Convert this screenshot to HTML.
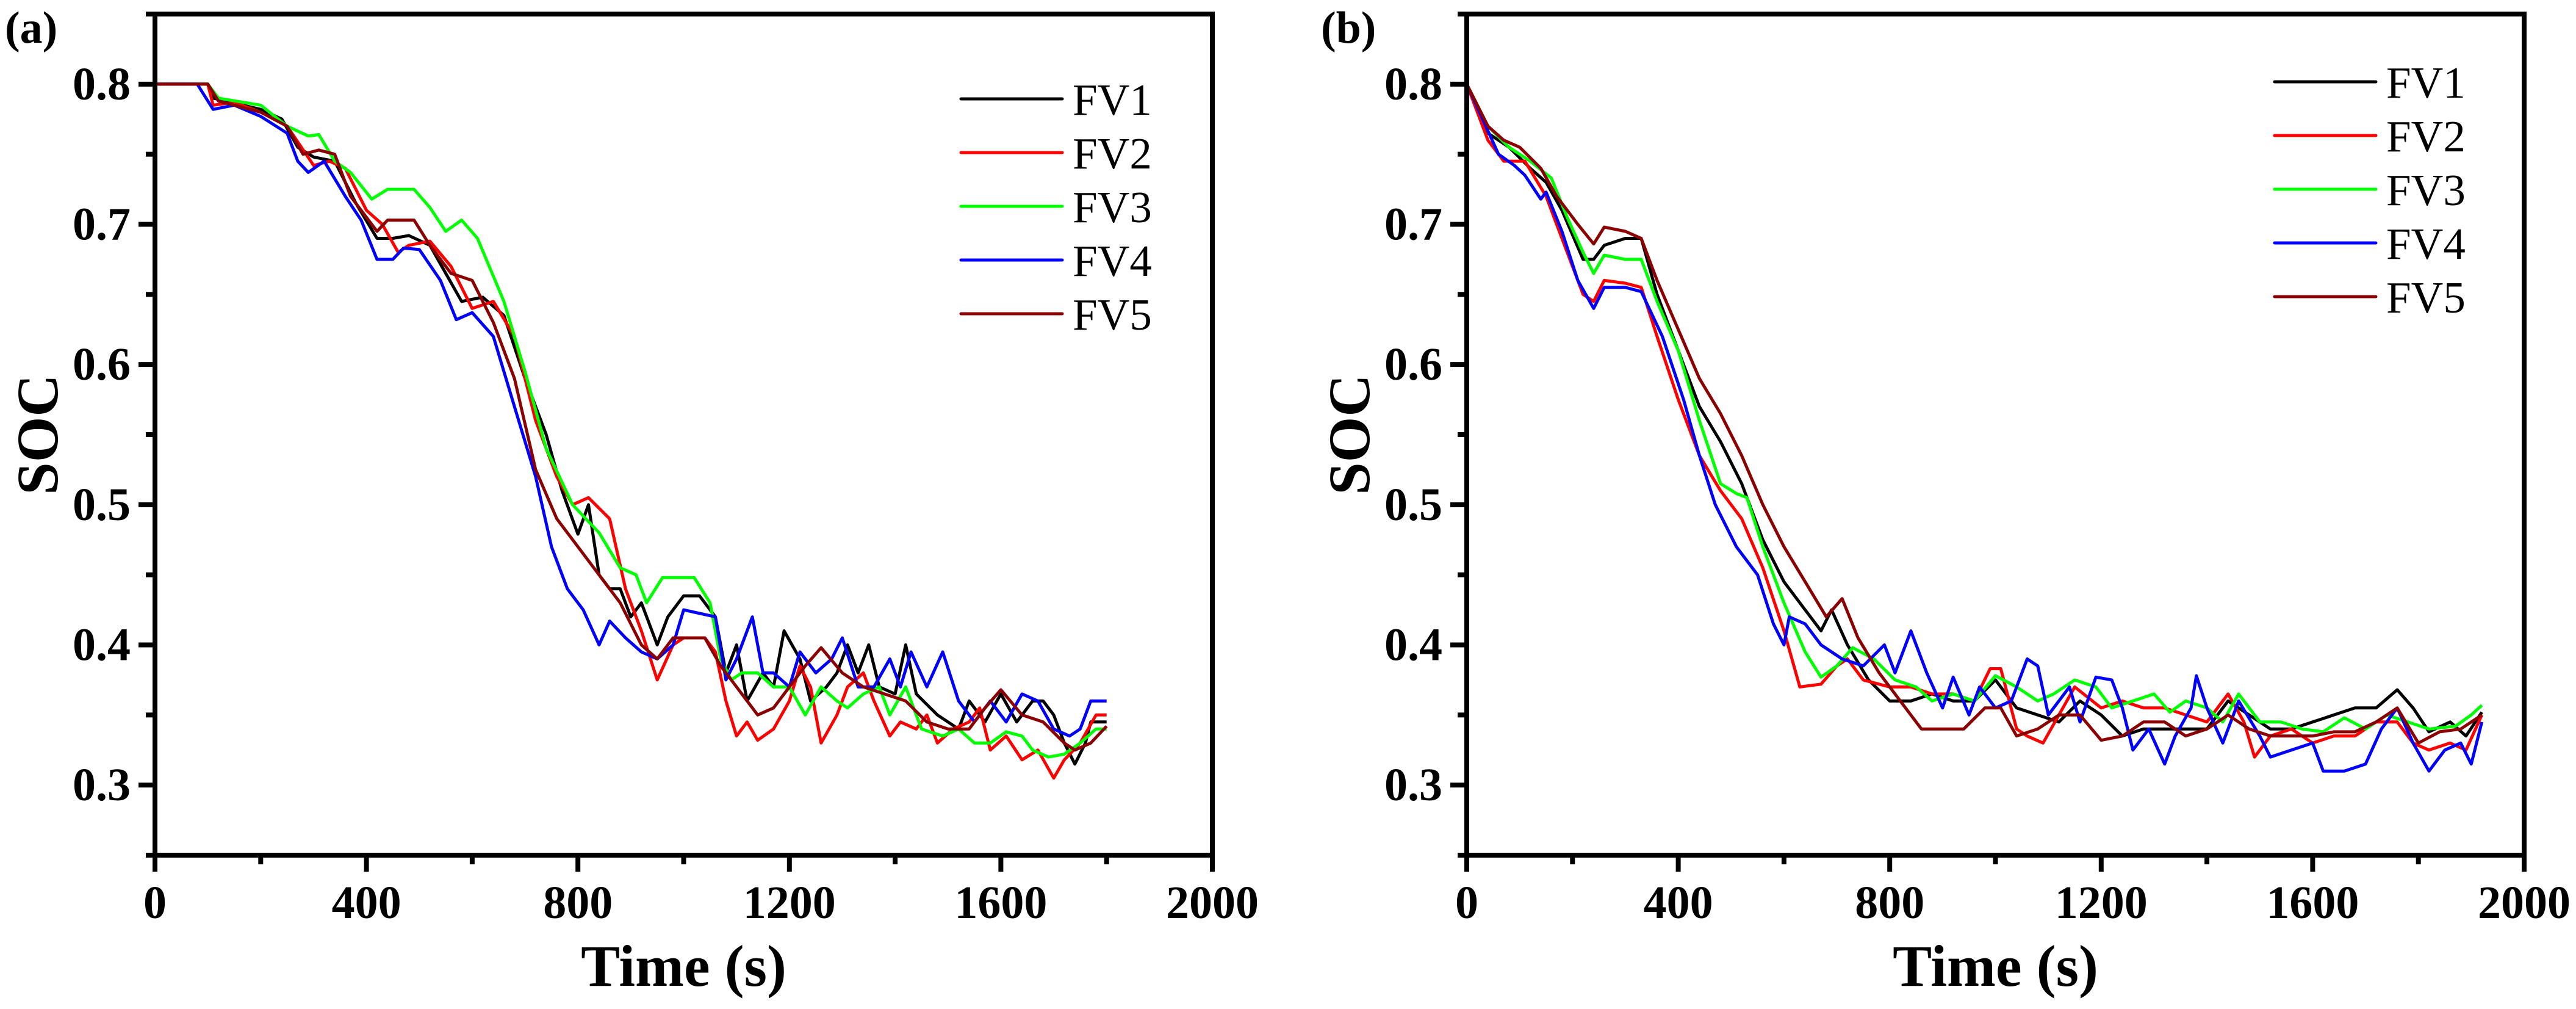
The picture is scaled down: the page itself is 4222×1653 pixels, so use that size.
<!DOCTYPE html>
<html><head><meta charset="utf-8"><style>
html,body{margin:0;padding:0;background:#fff;}
svg{display:block;}
text{font-family:"Liberation Serif","Times New Roman",serif;}
</style></head>
<body>
<svg id="chart" width="4222" height="1653" viewBox="0 0 4222 1653" xmlns="http://www.w3.org/2000/svg" font-family="Liberation Serif, serif"></svg>
<script>
// ---- data: panel (a) ----
const a_t1=[0,100,110,200,240,270,300,340,380,420,450,480,520,550,580,620,660,700,740,770,800,820,840,860,880,900,920,950,970,1000,1030,1060,1080,1100,1120,1150,1170,1190,1220,1240,1270,1290,1310,1330,1350,1370,1400,1420,1440,1480,1520,1540,1570,1600,1630,1660,1680,1700,1720,1740,1760,1770,1800];
const a_v1=[0.8,0.8,0.79,0.782,0.775,0.755,0.748,0.745,0.715,0.69,0.69,0.692,0.685,0.665,0.645,0.648,0.635,0.59,0.55,0.51,0.479,0.5,0.45,0.44,0.44,0.42,0.43,0.4,0.42,0.435,0.435,0.42,0.38,0.4,0.36,0.38,0.37,0.41,0.39,0.36,0.37,0.38,0.4,0.38,0.4,0.37,0.365,0.4,0.365,0.35,0.34,0.36,0.345,0.365,0.345,0.36,0.36,0.35,0.33,0.315,0.33,0.345,0.345];
const a_t2=[0,100,110,150,200,250,300,330,360,400,430,460,480,520,560,600,640,680,720,760,790,820,860,890,920,950,980,1000,1040,1060,1080,1100,1120,1140,1170,1200,1220,1240,1260,1290,1310,1340,1360,1390,1410,1440,1460,1480,1510,1540,1560,1580,1610,1640,1670,1700,1720,1750,1780,1800];
const a_v2=[0.8,0.8,0.785,0.787,0.78,0.77,0.742,0.745,0.74,0.71,0.7,0.68,0.685,0.688,0.67,0.64,0.645,0.62,0.56,0.52,0.5,0.505,0.49,0.44,0.41,0.375,0.4,0.405,0.405,0.395,0.36,0.335,0.345,0.332,0.34,0.36,0.385,0.37,0.33,0.35,0.37,0.38,0.36,0.335,0.345,0.34,0.35,0.33,0.34,0.345,0.355,0.325,0.335,0.318,0.325,0.305,0.318,0.33,0.35,0.35];
const a_t3=[0,100,120,200,250,290,310,340,370,410,440,490,520,550,580,610,660,700,740,790,840,880,910,930,960,1020,1050,1070,1090,1110,1140,1170,1200,1230,1260,1290,1310,1340,1370,1390,1420,1450,1490,1520,1550,1580,1610,1640,1660,1690,1720,1750,1780,1800];
const a_v3=[0.8,0.8,0.79,0.785,0.77,0.763,0.764,0.745,0.737,0.718,0.725,0.725,0.712,0.695,0.703,0.69,0.645,0.595,0.54,0.5,0.48,0.455,0.45,0.43,0.448,0.448,0.43,0.39,0.375,0.38,0.38,0.37,0.37,0.35,0.37,0.36,0.355,0.365,0.37,0.35,0.37,0.34,0.335,0.34,0.33,0.33,0.338,0.335,0.325,0.32,0.322,0.33,0.34,0.34];
const a_t4=[0,80,110,150,200,250,270,290,320,360,390,420,450,470,500,540,570,600,640,680,720,750,780,810,840,860,890,920,950,980,1000,1060,1080,1100,1130,1150,1170,1200,1220,1250,1280,1300,1330,1360,1390,1410,1430,1460,1490,1520,1550,1580,1610,1640,1670,1700,1730,1750,1770,1800];
const a_v4=[0.8,0.8,0.782,0.785,0.777,0.765,0.745,0.737,0.745,0.72,0.703,0.675,0.675,0.683,0.682,0.66,0.632,0.637,0.62,0.57,0.52,0.47,0.44,0.425,0.4,0.417,0.405,0.395,0.39,0.4,0.425,0.42,0.375,0.39,0.42,0.38,0.38,0.37,0.395,0.38,0.39,0.405,0.37,0.37,0.39,0.37,0.395,0.37,0.395,0.36,0.345,0.36,0.345,0.365,0.36,0.34,0.335,0.34,0.36,0.36];
const a_t5=[0,100,120,200,250,280,310,340,370,400,420,440,490,520,560,600,640,680,720,760,800,840,880,920,950,980,1040,1070,1100,1140,1170,1200,1230,1260,1300,1340,1380,1420,1460,1500,1540,1570,1600,1640,1680,1720,1740,1770,1800];
const a_v5=[0.8,0.8,0.788,0.78,0.77,0.75,0.753,0.75,0.72,0.705,0.695,0.703,0.703,0.685,0.665,0.66,0.63,0.59,0.525,0.49,0.47,0.45,0.43,0.4,0.39,0.405,0.405,0.385,0.37,0.35,0.355,0.37,0.385,0.398,0.38,0.37,0.365,0.36,0.345,0.34,0.34,0.355,0.368,0.35,0.345,0.33,0.325,0.33,0.342];
// ---- data: panel (b) ----
const b_t1=[0,40,80,120,150,180,220,240,260,300,330,360,400,440,480,520,560,600,640,670,690,720,760,800,840,880,920,960,1000,1040,1080,1120,1160,1200,1240,1280,1320,1360,1400,1440,1480,1520,1560,1600,1640,1680,1720,1760,1790,1820,1860,1890,1920];
const b_v1=[0.8,0.765,0.755,0.74,0.73,0.71,0.675,0.675,0.685,0.69,0.69,0.65,0.61,0.57,0.545,0.515,0.475,0.445,0.425,0.41,0.425,0.4,0.375,0.36,0.36,0.365,0.36,0.36,0.375,0.355,0.35,0.345,0.36,0.35,0.335,0.34,0.34,0.34,0.34,0.36,0.35,0.34,0.34,0.345,0.35,0.355,0.355,0.368,0.355,0.338,0.345,0.335,0.352];
const b_t2=[0,40,70,110,150,190,220,240,260,300,330,360,400,440,480,520,560,600,630,670,700,720,750,800,840,880,920,960,990,1010,1040,1060,1090,1120,1150,1200,1240,1280,1320,1360,1400,1440,1470,1490,1520,1560,1600,1640,1680,1720,1760,1790,1820,1860,1890,1920];
const b_v2=[0.8,0.76,0.745,0.745,0.72,0.68,0.65,0.645,0.66,0.658,0.655,0.62,0.575,0.535,0.51,0.49,0.455,0.41,0.37,0.372,0.385,0.39,0.375,0.37,0.37,0.365,0.365,0.36,0.383,0.383,0.34,0.335,0.33,0.35,0.37,0.355,0.36,0.355,0.355,0.35,0.345,0.365,0.345,0.32,0.335,0.34,0.33,0.335,0.335,0.345,0.345,0.33,0.325,0.33,0.325,0.35];
const b_t3=[0,40,80,120,160,190,220,240,260,300,330,360,400,440,480,510,530,560,600,640,670,700,730,770,810,850,880,920,960,1000,1040,1080,1110,1150,1190,1220,1260,1300,1330,1360,1400,1430,1460,1500,1540,1580,1620,1660,1700,1740,1780,1820,1870,1900,1920];
const b_v3=[0.8,0.77,0.755,0.745,0.733,0.705,0.68,0.665,0.678,0.675,0.675,0.645,0.61,0.56,0.515,0.508,0.505,0.47,0.43,0.395,0.377,0.385,0.398,0.39,0.375,0.37,0.36,0.365,0.36,0.378,0.37,0.36,0.365,0.375,0.37,0.355,0.36,0.365,0.352,0.36,0.355,0.345,0.365,0.345,0.345,0.34,0.338,0.348,0.34,0.35,0.345,0.34,0.342,0.35,0.357];
const b_t4=[0,30,60,90,110,140,150,180,210,240,260,300,330,370,410,440,470,510,550,580,600,610,640,670,710,750,790,810,840,870,900,920,950,970,1000,1030,1060,1080,1100,1140,1160,1190,1220,1240,1260,1290,1320,1340,1370,1380,1400,1430,1460,1500,1520,1560,1600,1620,1660,1700,1730,1760,1790,1820,1850,1880,1900,1920];
const b_v4=[0.8,0.775,0.75,0.742,0.735,0.718,0.723,0.695,0.66,0.64,0.655,0.655,0.652,0.62,0.575,0.535,0.5,0.47,0.45,0.415,0.4,0.42,0.415,0.4,0.39,0.385,0.4,0.38,0.41,0.38,0.355,0.377,0.35,0.37,0.355,0.36,0.39,0.385,0.35,0.37,0.345,0.377,0.375,0.355,0.325,0.34,0.315,0.335,0.355,0.378,0.355,0.33,0.36,0.335,0.32,0.325,0.33,0.31,0.31,0.315,0.34,0.355,0.33,0.31,0.325,0.33,0.315,0.345];
const b_t5=[0,40,70,100,140,170,210,240,260,300,330,360,400,440,480,520,560,600,640,680,710,740,780,820,860,900,940,980,1010,1040,1080,1120,1160,1200,1240,1280,1320,1360,1400,1440,1480,1520,1560,1600,1640,1680,1720,1760,1800,1840,1880,1920];
const b_v5=[0.8,0.77,0.76,0.755,0.74,0.72,0.7,0.686,0.698,0.695,0.69,0.66,0.625,0.59,0.565,0.535,0.5,0.47,0.445,0.42,0.433,0.405,0.38,0.36,0.34,0.34,0.34,0.355,0.355,0.335,0.34,0.35,0.35,0.332,0.335,0.345,0.345,0.335,0.34,0.35,0.34,0.335,0.335,0.335,0.338,0.338,0.345,0.355,0.33,0.338,0.34,0.35];
const seriesNames=["FV1","FV2","FV3","FV4","FV5"];
const seriesColors=["#000000","#ff0000","#00ff00","#0000ff","#8b0000"];
const xTicks=[0,400,800,1200,1600,2000];
const yTicks=[0.3,0.4,0.5,0.6,0.7,0.8];

const NS="http://www.w3.org/2000/svg";
const svg=document.getElementById('chart');
function mk(tag,attrs,parent){const e=document.createElementNS(NS,tag);for(const k in attrs)e.setAttribute(k,attrs[k]);(parent||svg).appendChild(e);return e;}

function panel(id,left,right,top,bottom,data,legX,legY,label,labelX){
  const g=mk('g',{});
  
  
  const xmin=0,xmax=2000,ymin=0.25,ymax=0.85;
  const X=v=>left+(v-xmin)/(xmax-xmin)*(right-left);
  const Y=v=>bottom-(v-ymin)/(ymax-ymin)*(bottom-top);
  data.forEach((s,i)=>{
    const d=s[0].map((t,j)=>(j?'L':'M')+X(t).toFixed(1)+','+Y(s[1][j]).toFixed(1)).join('');
    const p=mk('path',{d:d,fill:'none',stroke:seriesColors[i],'stroke-width':5,'stroke-linejoin':'round'},g);
    
    
  });
  const fr=mk('rect',{x:left,y:top,width:right-left,height:bottom-top,fill:'none',stroke:'#000','stroke-width':8},g);
  
  
  for(let v=0;v<=2000;v+=200){
    const major=v%400===0;
    mk('line',{x1:X(v),x2:X(v),y1:bottom,y2:bottom+(major?27:15),stroke:'#000','stroke-width':8},g);
  }
  xTicks.forEach(v=>{
    const t=mk('text',{x:X(v),y:bottom+103,'font-size':76,'font-weight':'bold','text-anchor':'middle','font-family':'Liberation Serif, serif'},g);
    t.textContent=v;
    
    
  });
  for(let k=0;k<=12;k++){
    const v=0.25+k*0.05;
    const major=k%2===1;
    mk('line',{x1:left,x2:left-(major?27:15),y1:Y(v),y2:Y(v),stroke:'#000','stroke-width':8},g);
  }
  yTicks.forEach(v=>{
    const t=mk('text',{x:left-40,y:Y(v)+25,'font-size':76,'font-weight':'bold','text-anchor':'end','font-family':'Liberation Serif, serif'},g);
    t.textContent=v.toFixed(1);
    
    
  });
  const xt=mk('text',{x:(left+right)/2,y:1615,'font-size':96,'font-weight':'bold','text-anchor':'middle','font-family':'Liberation Serif, serif'},g);
  xt.textContent='Time (s)';
  
  
  const yx=left-160, yy=(top+bottom)/2;
  const yt=mk('text',{x:yx,y:yy,'font-size':96,'font-weight':'bold','text-anchor':'middle','font-family':'Liberation Serif, serif',transform:'rotate(-90 '+yx+' '+yy+')'},g);
  yt.textContent='SOC';
  
  
  const pl=mk('text',{x:labelX,y:70,'font-size':74,'font-weight':'bold','font-family':'Liberation Serif, serif'},g);
  pl.textContent=label;
  
  
  seriesNames.forEach((n,i)=>{
    const ly=legY+i*88;
    const lg=mk('g',{},g);
    
    
    mk('line',{x1:legX,x2:legX+166,y1:ly,y2:ly,stroke:seriesColors[i],'stroke-width':5,'stroke-linecap':'round'},lg);
    const t=mk('text',{x:legX+183,y:ly+26,'font-size':73,'font-family':'Liberation Serif, serif'},lg);
    t.textContent=n;
  });
}
panel('a',254,1987,23,1401,[[a_t1,a_v1],[a_t2,a_v2],[a_t3,a_v3],[a_t4,a_v4],[a_t5,a_v5]],1575,162,'(a)',8);
panel('b',2404,4137,23,1401,[[b_t1,b_v1],[b_t2,b_v2],[b_t3,b_v3],[b_t4,b_v4],[b_t5,b_v5]],3728,134,'(b)',2165);
</script>
</body></html>
